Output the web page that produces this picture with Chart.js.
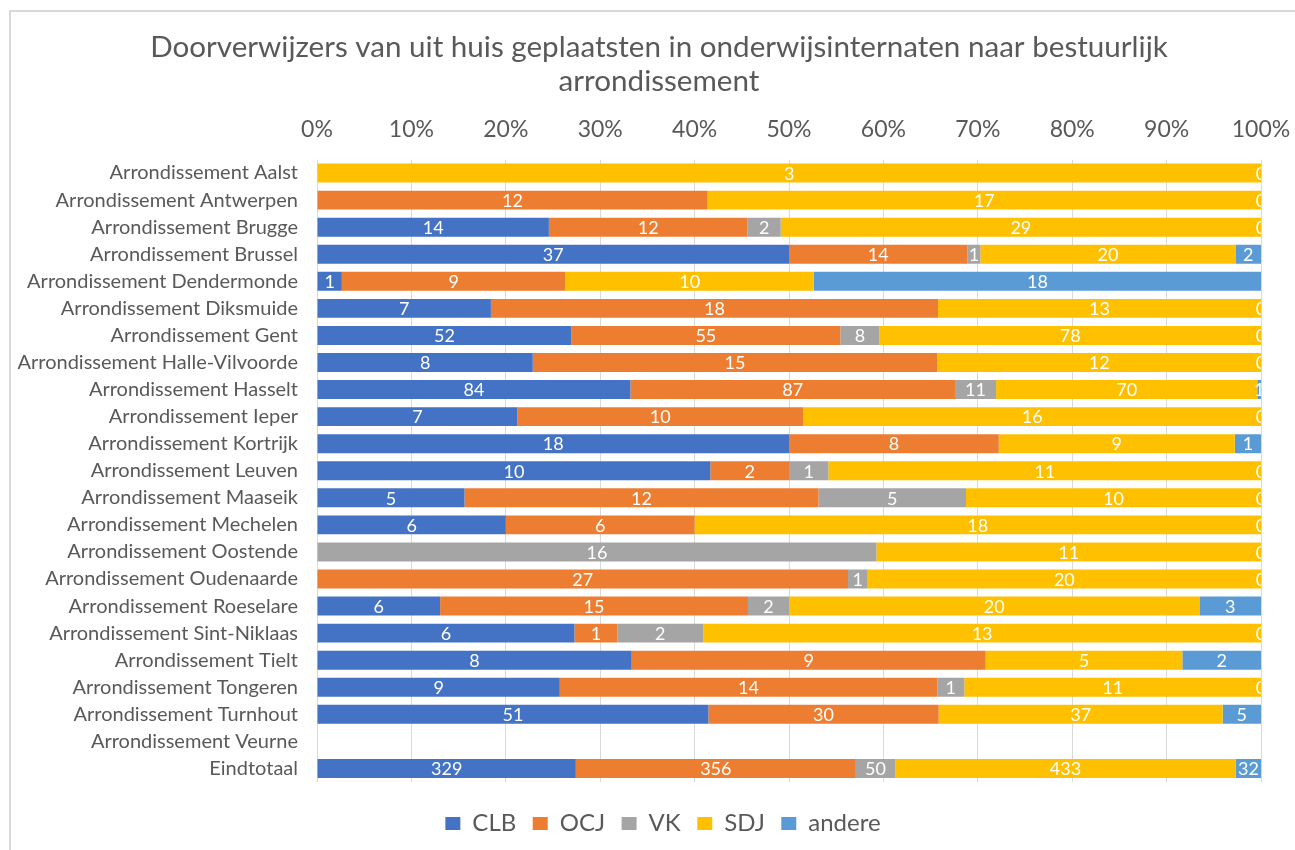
<!DOCTYPE html>
<html>
<head>
<meta charset="utf-8">
<script src="https://cdn.jsdelivr.net/npm/chart.js@4/dist/chart.umd.min.js"></script>
<style>
html,body{margin:0;padding:0;background:#fff;overflow:hidden;}
#frame{position:absolute;left:9px;top:10px;width:1400px;height:900px;border-left:2px solid #d9d9d9;border-top:2px solid #d9d9d9;box-sizing:border-box;}
#wrap{position:absolute;left:0;top:0;width:1295px;height:850px;}
</style>
</head>
<body>
<div id="frame"></div>
<div id="wrap"><canvas id="c" width="1295" height="850"></canvas></div>
<script>
const categories = [
  "Arrondissement Aalst","Arrondissement Antwerpen","Arrondissement Brugge","Arrondissement Brussel",
  "Arrondissement Dendermonde","Arrondissement Diksmuide","Arrondissement Gent","Arrondissement Halle-Vilvoorde",
  "Arrondissement Hasselt","Arrondissement Ieper","Arrondissement Kortrijk","Arrondissement Leuven",
  "Arrondissement Maaseik","Arrondissement Mechelen","Arrondissement Oostende","Arrondissement Oudenaarde",
  "Arrondissement Roeselare","Arrondissement Sint-Niklaas","Arrondissement Tielt","Arrondissement Tongeren",
  "Arrondissement Turnhout","Arrondissement Veurne","Eindtotaal"
];
const CLB    = [null,null,14,37,1,7,52,8,84,7,18,10,5,6,null,null,6,6,8,9,51,null,329];
const OCJ    = [null,12,12,14,9,18,55,15,87,10,8,2,12,6,null,27,15,1,9,14,30,null,356];
const VK     = [null,null,2,1,null,null,8,null,11,null,null,1,5,null,16,1,2,2,null,1,null,null,50];
const SDJ    = [3,17,29,20,10,13,78,12,70,16,9,11,10,18,11,20,20,13,5,11,37,null,433];
const andere = [0,0,0,2,18,0,0,0,1,0,1,0,0,0,0,0,3,0,2,0,5,null,32];
const tickLabels = ["0%","10%","20%","30%","40%","50%","60%","70%","80%","90%","100%"];
const titleLines = ["Doorverwijzers van uit huis geplaatsten in onderwijsinternaten naar bestuurlijk","arrondissement"];

const seriesNames = ["CLB","OCJ","VK","SDJ","andere"];
const seriesVals = [CLB,OCJ,VK,SDJ,andere];
const colors = ["#4472C4","#ED7D31","#A5A5A5","#FFC000","#5B9BD5"];
const totals = categories.map((_,i)=>seriesVals.reduce((s,a)=>s+(a[i]||0),0));

const FONT = "Lato, 'Open Sans', sans-serif";
const TXT = "#595959";
const PAD_L = 10;

const datasets = seriesNames.map((n,k)=>({
  label:n,
  data: seriesVals[k].map((v,i)=> v===null ? null : (totals[i] ? v/totals[i]*100 : 0)),
  raw: seriesVals[k],
  backgroundColor: colors[k],
  borderWidth:0,
  barPercentage:0.7,
  categoryPercentage:1.0
}));

const labelPlugin = {
  id:'vlabels',
  afterDatasetsDraw(chart){
    const ctx = chart.ctx, ca = chart.chartArea;
    ctx.save();
    ctx.beginPath();
    ctx.rect(ca.left, ca.top, ca.right-ca.left, ca.bottom-ca.top);
    ctx.clip();
    ctx.font = "18px " + FONT;
    ctx.fillStyle = "#ffffff";
    ctx.textAlign = "center";
    ctx.textBaseline = "middle";
    chart.data.datasets.forEach((ds,di)=>{
      const meta = chart.getDatasetMeta(di);
      meta.data.forEach((el,i)=>{
        const v = ds.raw[i];
        if (v===null || v===undefined) return;
        const x = (el.x + el.base)/2;
        ctx.fillText(String(v), x, el.y+1);
      });
    });
    ctx.restore();
  }
};

const titlePlugin = {
  id:'ctitle',
  afterDraw(chart){
    const ctx = chart.ctx;
    ctx.save();
    ctx.font = "29.6px " + FONT;
    ctx.fillStyle = TXT;
    ctx.textAlign = "center";
    ctx.textBaseline = "middle";
    ctx.fillText(titleLines[0], 659, 47);
    ctx.fillText(titleLines[1], 659, 81);
    ctx.restore();
  }
};

const legendShift = {
  id:'legendShift',
  afterLayout(chart){
    const lg = chart.legend;
    if (!lg) return;
    const dx = 663 - (lg.left + lg.right)/2;
    const dy = 13;
    lg.left += dx; lg.right += dx;
    lg.top += dy; lg.bottom += dy;
  }
};

new Chart(document.getElementById('c'), {
  type:'bar',
  data:{labels:categories, datasets},
  plugins:[labelPlugin,titlePlugin,legendShift],
  options:{
    indexAxis:'y',
    responsive:false,
    animation:false,
    devicePixelRatio:1,
    layout:{padding:{top:108,left:PAD_L,right:34,bottom:17.5}},
    scales:{
      x:{
        position:'top',
        stacked:true,
        min:0,max:100,
        afterFit(s){ s.height = 51.5; s.paddingLeft = 0; s.paddingRight = 0; },
        ticks:{
          stepSize:10,
          color:TXT,
          font:{family:FONT,size:23},
          padding:16,
          callback:(v,i)=>tickLabels[i]
        },
        grid:{color:"#d9d9d9",lineWidth:1,drawTicks:false},
        border:{display:false}
      },
      y:{
        stacked:true,
        afterFit(s){ s.width = 317-PAD_L; },
        ticks:{color:TXT,font:{family:FONT,size:20},padding:19,autoSkip:false},
        grid:{display:false,drawTicks:false},
        border:{display:false}
      }
    },
    plugins:{
      legend:{
        position:'bottom',
        labels:{color:TXT,font:{family:FONT,size:24},boxWidth:15,boxHeight:13,padding:16.5}
      },
      title:{display:false},
      tooltip:{enabled:false}
    }
  }
});
</script>
</body>
</html>
